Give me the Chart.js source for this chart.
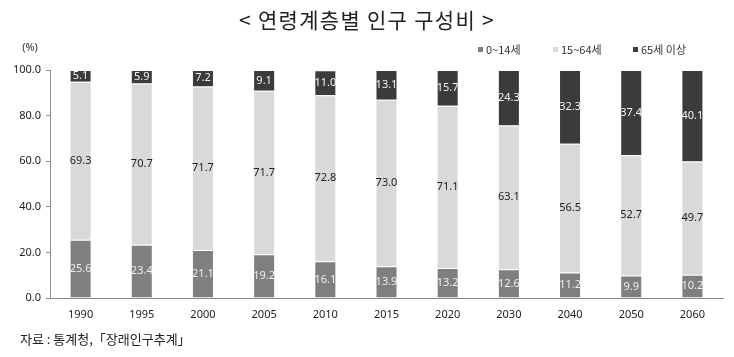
<!DOCTYPE html>
<html><head><meta charset="utf-8">
<script src="https://cdn.jsdelivr.net/npm/chart.js@4/dist/chart.umd.min.js"></script>
<style>html,body{margin:0;padding:0;background:#fff;}#wrap{width:734px;height:357px;position:relative;}</style>
</head><body><div id="wrap"><canvas id="c" width="734" height="357"></canvas></div>
<script>
const categories = ['1990','1995','2000','2005','2010','2015','2020','2030','2040','2050','2060'];
const seriesNames = ['0~14세','15~64세','65세 이상'];
const young = [25.6,23.4,21.1,19.2,16.1,13.9,13.2,12.6,11.2,9.9,10.2];
const working = [69.3,70.7,71.7,71.7,72.8,73.0,71.1,63.1,56.5,52.7,49.7];
const elderly = [5.1,5.9,7.2,9.1,11.0,13.1,15.7,24.3,32.3,37.4,40.1];
const yTicks = [0,20,40,60,80,100];
const titleText = '< 연령계층별 인구 구성비 >';
const unitText = '(%)';
const sourceText = '자료 : 통계청,「장래인구추계」';

const colors = ['#7f7f7f','#d9d9d9','#3b3b3b'];
const labelColors = ['#eeeeee','#222222','#f4f4f4'];
const numFont = "'Noto Sans', sans-serif";
const krFont = "'Noto Sans CJK KR', sans-serif";

const extras = {
  id:'extras',
  afterDatasetsDraw(chart){
    const ctx = chart.ctx;
    ctx.save();
    chart.data.datasets.forEach((ds,di)=>{
      const meta = chart.getDatasetMeta(di);
      meta.data.forEach((bar,i)=>{
        const v = ds.data[i];
        const yc = (bar.y + bar.base)/2;
        ctx.font = "11px " + numFont;
        ctx.fillStyle = labelColors[di];
        ctx.textAlign='center'; ctx.textBaseline='middle';
        ctx.fillText(v.toFixed(1), bar.x, yc);
      });
    });
    ctx.restore();
  },
  afterDraw(chart){
    const ctx = chart.ctx;
    ctx.save();
    ctx.fillStyle='#222';
    ctx.font = "21px " + krFont;
    try { ctx.letterSpacing = '1.3px'; } catch(e) {}
    ctx.textAlign='center'; ctx.textBaseline='middle';
    ctx.fillText(titleText, 367, 20);
    try { ctx.letterSpacing = '0px'; } catch(e) {}
    ctx.font = "11px " + numFont;
    ctx.fillStyle='#333';
    ctx.fillText(unitText, 30, 48);
    const lx = [481, 556, 636];
    chart.data.datasets.forEach((ds,di)=>{
      ctx.fillStyle = ds.backgroundColor;
      ctx.fillRect(lx[di]-3, 47, 5, 5);
      ctx.fillStyle = '#333';
      ctx.font = "11px " + krFont;
      ctx.textAlign='left'; ctx.textBaseline='middle';
      ctx.fillText(ds.label, lx[di]+5, 50);
    });
    ctx.font = "13px " + krFont;
    ctx.fillStyle='#222';
    ctx.textAlign='left'; ctx.textBaseline='middle';
    ctx.fillText(sourceText, 20, 339);
    ctx.restore();
  }
};

const datasets = [young, working, elderly].map((d,i)=>({
  label: seriesNames[i], data: d, backgroundColor: colors[i],
  borderColor: 'rgba(255,255,255,0.55)', borderWidth: 1,
  barPercentage: 0.36, categoryPercentage: 1.0
}));

new Chart(document.getElementById('c'), {
  type:'bar',
  data:{labels:categories, datasets},
  options:{
    responsive:false, animation:false,
    layout:{padding:{top:70,right:11,left:0,bottom:0}},
    plugins:{legend:{display:false},title:{display:false},tooltip:{enabled:false}},
    scales:{
      x:{stacked:true, offset:true,
        grid:{display:false},
        border:{display:true,color:'#8c8c8c',width:1},
        ticks:{color:'#222',font:{size:11,family:"'Noto Sans', sans-serif"},padding:2},
        afterFit(s){ s.height = 59; }
      },
      y:{stacked:true, min:0, max:100,
        afterBuildTicks(s){ s.ticks = yTicks.map(v=>({value:v})); },
        grid:{drawOnChartArea:false, drawTicks:true, tickLength:4, color:'#8c8c8c'},
        border:{display:true,color:'#8c8c8c',width:1},
        ticks:{color:'#222',font:{size:11,family:"'Noto Sans', sans-serif"},padding:5,
          callback:(v)=>Number(v).toFixed(1)},
        afterFit(s){ s.width = 50; }
      }
    }
  },
  plugins:[extras]
});
</script></body></html>
